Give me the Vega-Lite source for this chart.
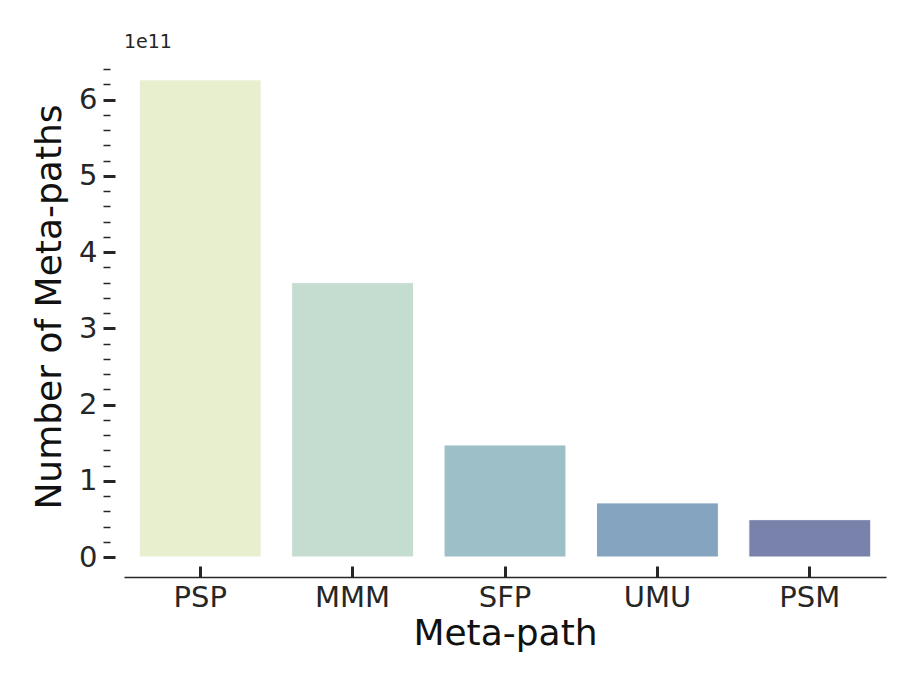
{
  "$schema": "https://vega.github.io/schema/vega-lite/v6.json",
  "width": 762,
  "height": 501,
  "autosize": "none",
  "padding": {"left": 124, "top": 56, "right": 35, "bottom": 134},
  "background": "white",
  "config": {
    "view": {"stroke": null},
    "font": "DejaVu Sans",
    "axis": {"labelFont": "DejaVu Sans", "titleFont": "DejaVu Sans", "labelColor": "#262626", "titleColor": "#111111", "tickColor": "#262626", "domainColor": "#262626", "grid": false, "titleFontWeight": "normal"}
  },
  "title": {"text": "1e11", "anchor": "start", "frame": "group", "fontSize": 19, "fontWeight": "normal", "color": "#262626", "offset": 4, "font": "DejaVu Sans"},
  "data": {"values": [
    {"path": "PSP", "count": 626000000000},
    {"path": "MMM", "count": 360000000000},
    {"path": "SFP", "count": 147000000000},
    {"path": "UMU", "count": 71000000000},
    {"path": "PSM", "count": 49000000000}
  ]},
  "layer": [
    {
      "mark": {"type": "bar", "stroke": "white", "strokeWidth": 1},
      "encoding": {
        "x": {"field": "path", "type": "nominal", "sort": null,
          "scale": {"paddingInner": 0.2, "paddingOuter": 0.1},
          "axis": {"title": "Meta-path", "titleFontSize": 36, "labelFontSize": 29, "labelAngle": 0, "offset": 20, "domainWidth": 1.5, "tickWidth": 3, "tickSize": -11, "labelPadding": 17, "titlePadding": 4}},
        "y": {"field": "count", "type": "quantitative",
          "scale": {"domain": [0, 657300000000], "nice": false, "zero": true},
          "axis": {"title": "Number of Meta-paths", "titleFontSize": 36, "labelFontSize": 29, "values": [0, 100000000000, 200000000000, 300000000000, 400000000000, 500000000000, 600000000000], "labelExpr": "format(datum.value/1e11, 'd')", "domain": false, "offset": 21, "tickSize": -12, "tickWidth": 3, "labelPadding": 18, "titlePadding": 10}},
        "color": {"field": "path", "type": "nominal", "sort": null, "legend": null,
          "scale": {"domain": ["PSP", "MMM", "SFP", "UMU", "PSM"], "range": ["#e8efcf", "#c5ddd0", "#9dc0c8", "#84a4bf", "#7882ab"]}}
      }
    },
    {
      "mark": {"type": "bar", "opacity": 0},
      "encoding": {
        "x": {"field": "path", "type": "nominal", "sort": null},
        "y": {"field": "count", "type": "quantitative",
          "axis": {"title": null, "orient": "left", "labels": false, "domain": false, "offset": 21, "tickSize": -7, "tickWidth": 1.5,
            "values": [20000000000, 40000000000, 60000000000, 80000000000, 120000000000, 140000000000, 160000000000, 180000000000, 220000000000, 240000000000, 260000000000, 280000000000, 320000000000, 340000000000, 360000000000, 380000000000, 420000000000, 440000000000, 460000000000, 480000000000, 520000000000, 540000000000, 560000000000, 580000000000, 620000000000, 640000000000]}}
      }
    }
  ],
  "resolve": {"axis": {"y": "independent"}}
}
